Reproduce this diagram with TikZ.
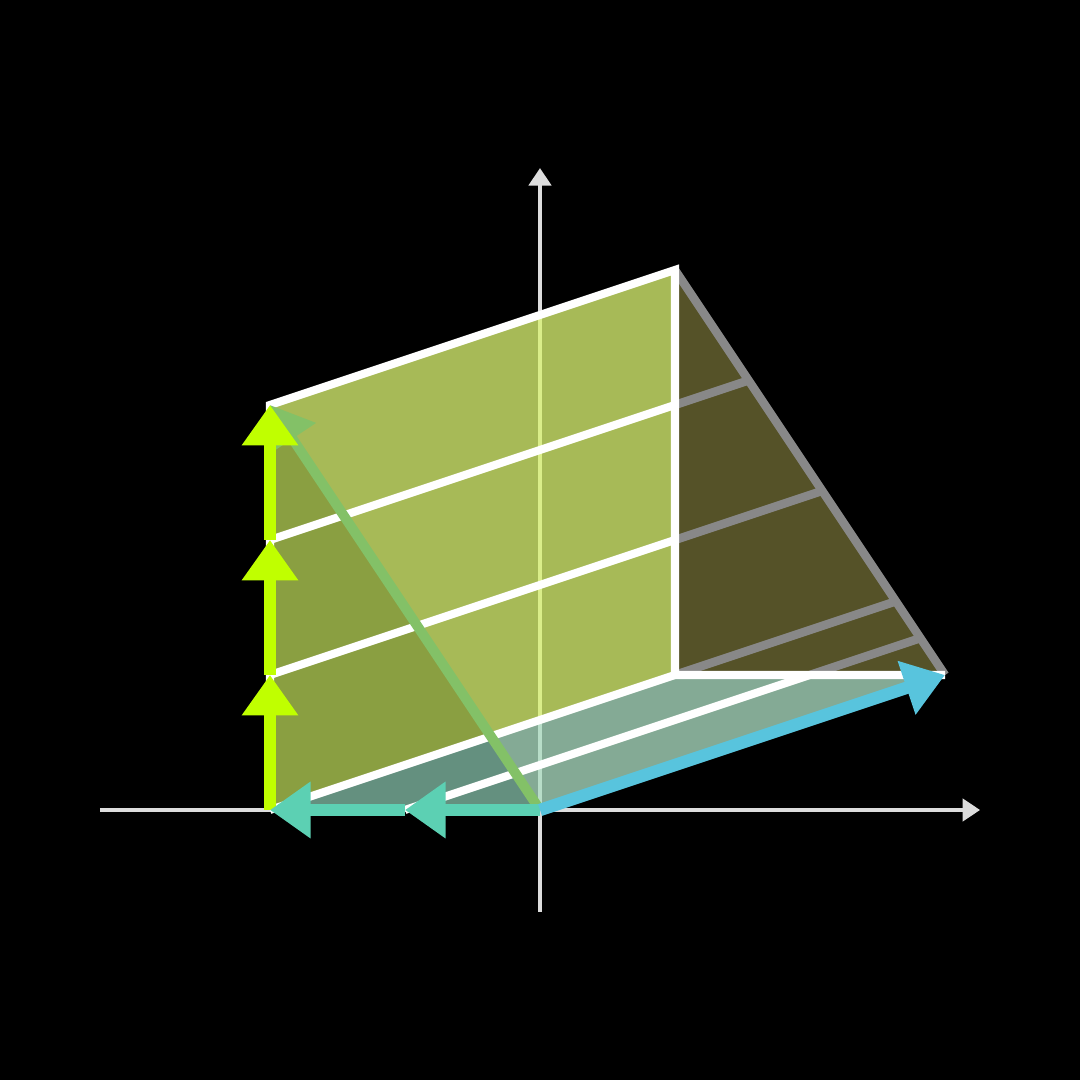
\documentclass[tikz,border=0pt]{standalone}
\usetikzlibrary{arrows.meta, calc}

\definecolor{sumbu}{HTML}{DDDDDD}
\definecolor{garisabu}{HTML}{888888}
\definecolor{hijauvek}{HTML}{83C167}
\definecolor{kuningvek}{HTML}{C0FF00}
\definecolor{tealvek}{HTML}{5CD0B3}
\definecolor{biruvek}{HTML}{58C4DD}
\definecolor{sisikiri}{HTML}{8A9F41}
\definecolor{sisikanan}{RGB}{218,243,114}
\definecolor{alaskiri}{HTML}{64907F}
\definecolor{alaskanan}{RGB}{173,222,194}
\definecolor{sisibelakang}{HTML}{555228}

\begin{document}
\begin{tikzpicture}[
    axis/.style     = {draw=sumbu, line width=0.85pt, -{Triangle[length=0.13cm, width=0.165cm]}},
    edge/.style     = {draw=white, line width=1.7pt},
    backedge/.style = {draw=garisabu, line width=1.8pt},
    vec/.style      = {line width=2.6pt, -{Triangle[length=0.3cm, width=0.4cm]}},
    face/.style     = {fill opacity=0.77}
]

    % --- Latar Hitam ---
    \fill[black] (-4,-2) rectangle (4,6);

    % --- Titik Sudut Prisma ---
    \coordinate (O) at (0,0);
    \coordinate (A) at (-2,0);
    \coordinate (B) at (-2,3);
    \coordinate (C) at (1,4);
    \coordinate (D) at (1,1);
    \coordinate (E) at (3,1);
    \coordinate (M) at (intersection of A--D and O--B);

    % Titik bantu garis grid
    \coordinate (P1) at (-2,1);
    \coordinate (P2) at (-2,2);
    \coordinate (Q1) at (1,2);
    \coordinate (Q2) at (1,3);
    \coordinate (T)  at (-1,0);
    \coordinate (U)  at (2,1);

    % --- Sumbu Koordinat ---
    \coordinate (xkiri)  at (-3.26,0);
    \coordinate (xkanan) at (3.26,0);
    \coordinate (ybawah) at (0,-0.755);
    \coordinate (yatas)  at (0,4.755);
    \draw[axis] (xkiri) -- (xkanan);
    \draw[axis] (ybawah) -- (yatas);

    % --- Bidang Prisma ---
    \fill[sisibelakang] (D) -- (C) -- (E) -- cycle;
    \fill[sisikiri] (A) -- (B) -- (M) -- cycle;
    \fill[alaskiri] (A) -- (M) -- (O) -- cycle;
    \fill[sisikanan, face] (M) -- (B) -- (C) -- (D) -- cycle;
    \fill[alaskanan, face] (M) -- (D) -- (E) -- (O) -- cycle;

    % --- Garis Belakang (abu-abu) ---
    \draw[backedge] (C) -- (E);
    \foreach \awal/\s in {Q2/3, Q1/6, D/9, U/10}
        \draw[backedge] (\awal) -- ($(C)!\s/11!(E)$);

    % --- Rusuk Putih ---
    \draw[edge] (A) -- (B) -- (C) -- (D) -- (E);
    \draw[edge] (A) -- (D);
    \draw[edge] (P1) -- (Q1);
    \draw[edge] (P2) -- (Q2);
    \draw[edge] (T) -- (U);

    % --- Vektor ---
    \draw[vec, hijauvek, line width=2.1pt] (O) -- (B);
    \draw[vec, kuningvek] (A) -- (P1);
    \draw[vec, kuningvek] (P1) -- (P2);
    \draw[vec, kuningvek] (P2) -- (B);
    \draw[vec, tealvek] (O) -- (T);
    \draw[vec, tealvek] (T) -- (A);
    \draw[vec, biruvek] (O) -- (E);

\end{tikzpicture}
\end{document}
